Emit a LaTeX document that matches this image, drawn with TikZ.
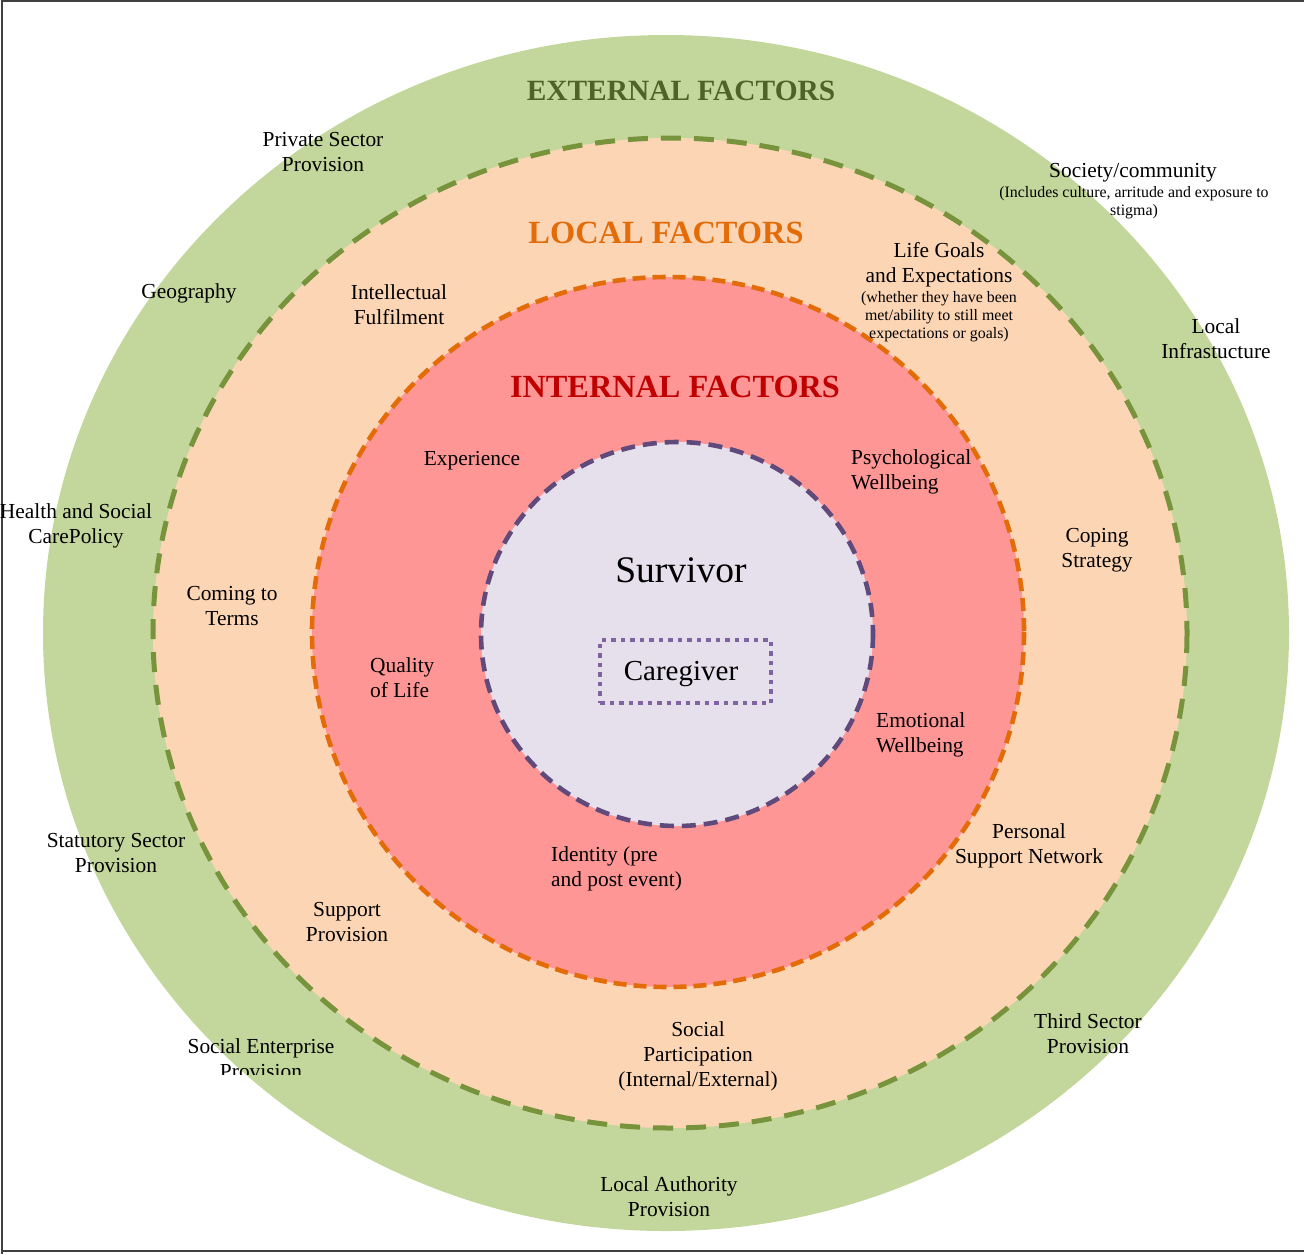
\documentclass[tikz,border=0pt]{standalone}
\usepackage{fontspec}
\setmainfont{Liberation Serif}
\definecolor{extfill}{HTML}{C3D69B}
\definecolor{extline}{HTML}{77933C}
\definecolor{exttext}{HTML}{4F6228}
\definecolor{locfill}{HTML}{FCD5B5}
\definecolor{locline}{HTML}{E36C09}
\definecolor{intfill}{HTML}{FF9696}
\definecolor{inttext}{HTML}{C00000}
\definecolor{corefill}{HTML}{E6E0EC}
\definecolor{coreline}{HTML}{604A7B}
\definecolor{cgline}{HTML}{8064A2}
\definecolor{framecol}{HTML}{404040}
\tikzset{
  lbl/.style={align=center, inner sep=0pt, font=\fontsize{21.4}{25}\selectfont},
  lbll/.style={align=left, anchor=north west, inner sep=0pt, font=\fontsize{21.4}{25}\selectfont},
  small/.style={align=center, inner sep=0pt, font=\fontsize{15.9}{18}\selectfont},
  title/.style={inner sep=0pt, font=\fontsize{29.4}{34}\selectfont\bfseries},
}
\begin{document}
\begin{tikzpicture}[x=1pt,y=-1pt]
\useasboundingbox (0,0) rectangle (1304,1254);
% frame
\draw[framecol, line width=2pt] (2,1254) -- (2,1) -- (1304,1);
\draw[framecol, line width=2pt] (2,1251) -- (1304,1251);
% rings
\fill[extfill] (666,633) ellipse [x radius=623, y radius=598];
\filldraw[fill=locfill, draw=extline, line width=5pt, dash pattern=on 20pt off 13pt] (670,633) ellipse [x radius=517, y radius=495];
\filldraw[fill=intfill, draw=locline, line width=4.6pt, dash pattern=on 13pt off 7pt] (668,632) ellipse [x radius=356, y radius=355];
\filldraw[fill=corefill, draw=coreline, line width=4.6pt, dash pattern=on 14pt off 8pt] (677,634) ellipse [x radius=196, y radius=192];
\node (cgbox) [draw=cgline, line width=4.5pt, dash pattern=on 4.5pt off 5pt, minimum width=171pt, minimum height=63pt, inner sep=0pt] at (685.5,671.5) {};
\node (cg) [inner sep=0pt, font=\fontsize{29}{32}\selectfont] at (681,674) {Caregiver};
% titles
\node (ext) [title, text=exttext] at (681,91) {EXTERNAL FACTORS};
\node (loc) [title, text=locline, font=\fontsize{32.4}{34}\selectfont\bfseries] at (666,233) {LOCAL FACTORS};
\node (int) [title, text=inttext, font=\fontsize{32.3}{34}\selectfont\bfseries] at (675,387) {INTERNAL FACTORS};
\node (surv) [inner sep=0pt, font=\fontsize{37.5}{40}\selectfont] at (681,570) {Survivor};
% external labels
\node (priv) [lbl] at (323,152) {Private Sector\\Provision};
\node (soc) [lbl] at (1133,173) {Society/community};
\node (socs) [small] at (1134,203) {(Includes culture, arritude and exposure to\\stigma)};
\node (geo) [lbl] at (189,293) {Geography};
\node (infra) [lbl] at (1216,339) {Local\\Infrastucture};
\node (hsc) [lbl] at (76,526) {Health and Social\\CarePolicy};
\node (stat) [lbl] at (116,853) {Statutory Sector\\Provision};
\node (third) [lbl] at (1088,1034) {Third Sector\\Provision};
\begin{scope}
\clip (100,1020) rectangle (420,1074);
\node (soce) [lbl] at (261,1059) {Social Enterprise\\Provision};
\end{scope}
\node (la) [lbl] at (669,1197) {Local Authority\\Provision};
% local labels
\node (intel) [lbl] at (399,305) {Intellectual\\Fulfilment};
\node (life) [lbl] at (939,265) {Life Goals\\and Expectations};
\node (lifes) [small] at (939,317) {(whether they have been\\met/ability to still meet\\expectations or goals)};
\node (cope) [lbl] at (1097,550) {Coping\\Strategy};
\node (come) [lbl] at (232,606) {Coming to\\Terms};
\node (pers) [lbl] at (1029,846) {Personal\\Support Network};
\node (supp) [lbl] at (347,922) {Support\\Provision};
\node (part) [lbl] at (698,1056) {Social\\Participation\\(Internal/External)};
% internal labels
\node (exp) [lbl] at (472,461) {Experience};
\node (psy) [lbll] at (851,449) {Psychological\\Wellbeing};
\node (qol) [lbll] at (370,657) {Quality\\of Life};
\node (emo) [lbll] at (876,712) {Emotional\\Wellbeing};
\node (iden) [lbll] at (551,846) {Identity (pre\\and post event)};
\end{tikzpicture}
\end{document}
